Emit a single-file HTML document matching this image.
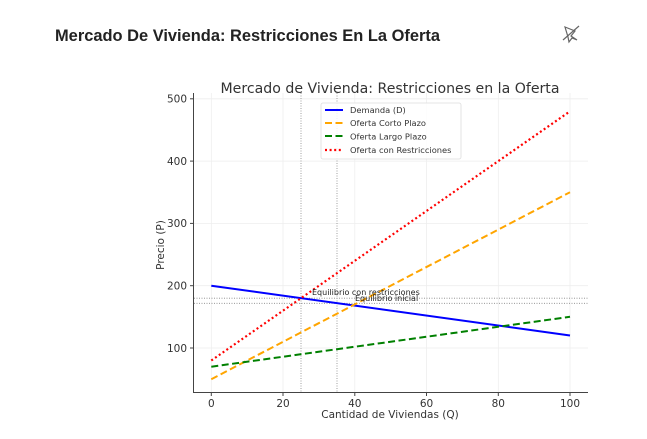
<!DOCTYPE html>
<html><head><meta charset="utf-8"><style>
html,body{margin:0;padding:0;background:#fff;width:647px;height:439px;overflow:hidden}
svg{display:block}
</style></head><body>
<svg width="647" height="439" viewBox="0 0 647 439" xmlns="http://www.w3.org/2000/svg" font-family="'DejaVu Sans','Liberation Sans',sans-serif">
<text x="55" y="41" font-family="'Liberation Sans',sans-serif" font-weight="bold" font-size="16.5" fill="#222" textLength="385" lengthAdjust="spacingAndGlyphs">Mercado De Vivienda: Restricciones En La Oferta</text>
<g stroke="#666" stroke-width="1.2" fill="none">
<path d="M565 27 L575 31 L571 36 L577 40 L572 38 L569 42 L568 37 Z"/>
<path d="M563 40 L579 26"/>
</g>
<text x="390" y="93" text-anchor="middle" font-size="14" fill="#333" textLength="339" lengthAdjust="spacingAndGlyphs">Mercado de Vivienda: Restricciones en la Oferta</text>
<g stroke="#eee" stroke-width="0.8">
<line x1="211.3" y1="93" x2="211.3" y2="392"/><line x1="283" y1="93" x2="283" y2="392"/><line x1="354.8" y1="93" x2="354.8" y2="392"/><line x1="426.5" y1="93" x2="426.5" y2="392"/><line x1="498.3" y1="93" x2="498.3" y2="392"/><line x1="570" y1="93" x2="570" y2="392"/>
<line x1="194" y1="348" x2="588" y2="348"/><line x1="194" y1="285.7" x2="588" y2="285.7"/><line x1="194" y1="223.4" x2="588" y2="223.4"/><line x1="194" y1="161.1" x2="588" y2="161.1"/><line x1="194" y1="98.8" x2="588" y2="98.8"/>
</g>
<g stroke="#888" stroke-width="0.8" stroke-dasharray="1,1.5">
<line x1="301" y1="93" x2="301" y2="392"/><line x1="337" y1="93" x2="337" y2="392"/>
<line x1="194" y1="298.2" x2="588" y2="298.2"/><line x1="194" y1="303.3" x2="588" y2="303.3"/>
</g>
<line x1="211.3" y1="285.7" x2="570" y2="335.5" stroke="#0000ff" stroke-width="2"/>
<line x1="211.3" y1="379.2" x2="570" y2="192.2" stroke="#ffa500" stroke-width="2" stroke-dasharray="7,3.5"/>
<line x1="211.3" y1="366.7" x2="570" y2="316.8" stroke="#008000" stroke-width="2" stroke-dasharray="7,3.5"/>
<line x1="211.3" y1="360.5" x2="570" y2="111.3" stroke="#ff0000" stroke-width="2.2" stroke-dasharray="2,2.6"/>
<text x="312" y="295" font-size="8" fill="#222">Equilibrio con restricciones</text>
<text x="355" y="301" font-size="8" fill="#222">Equilibrio inicial</text>
<g stroke="#444" stroke-width="1">
<line x1="193.5" y1="93" x2="193.5" y2="392.5"/><line x1="193" y1="392.5" x2="588" y2="392.5"/>
<line x1="190" y1="348" x2="193.5" y2="348"/><line x1="190" y1="285.7" x2="193.5" y2="285.7"/><line x1="190" y1="223.4" x2="193.5" y2="223.4"/><line x1="190" y1="161.1" x2="193.5" y2="161.1"/><line x1="190" y1="98.8" x2="193.5" y2="98.8"/>
<line x1="211.3" y1="392.5" x2="211.3" y2="396"/><line x1="283" y1="392.5" x2="283" y2="396"/><line x1="354.8" y1="392.5" x2="354.8" y2="396"/><line x1="426.5" y1="392.5" x2="426.5" y2="396"/><line x1="498.3" y1="392.5" x2="498.3" y2="396"/><line x1="570" y1="392.5" x2="570" y2="396"/>
</g>
<g font-size="10.5" fill="#333" text-anchor="end">
<text x="187" y="352">100</text><text x="187" y="289.5">200</text><text x="187" y="227">300</text><text x="187" y="165">400</text><text x="187" y="102.5">500</text>
</g>
<g font-size="10.5" fill="#333" text-anchor="middle">
<text x="211.3" y="407">0</text><text x="283" y="407">20</text><text x="354.8" y="407">40</text><text x="426.5" y="407">60</text><text x="498.3" y="407">80</text><text x="570" y="407">100</text>
<text x="390" y="418">Cantidad de Viviendas (Q)</text>
<text transform="translate(164,245) rotate(-90)">Precio (P)</text>
</g>
<rect x="321" y="103" width="140" height="56" fill="#fff" fill-opacity="0.85" stroke="#ddd" stroke-width="0.8" rx="2"/>
<line x1="325" y1="110" x2="343" y2="110" stroke="#0000ff" stroke-width="2"/>
<line x1="325" y1="123" x2="343" y2="123" stroke="#ffa500" stroke-width="2" stroke-dasharray="7,3.5"/>
<line x1="325" y1="136" x2="343" y2="136" stroke="#008000" stroke-width="2" stroke-dasharray="7,3.5"/>
<line x1="325" y1="150" x2="343" y2="150" stroke="#ff0000" stroke-width="2.2" stroke-dasharray="2,2.6"/>
<g font-size="8.3" fill="#333">
<text x="350" y="113">Demanda (D)</text><text x="350" y="126">Oferta Corto Plazo</text><text x="350" y="139.5">Oferta Largo Plazo</text><text x="350" y="153">Oferta con Restricciones</text>
</g>
</svg>
</body></html>
